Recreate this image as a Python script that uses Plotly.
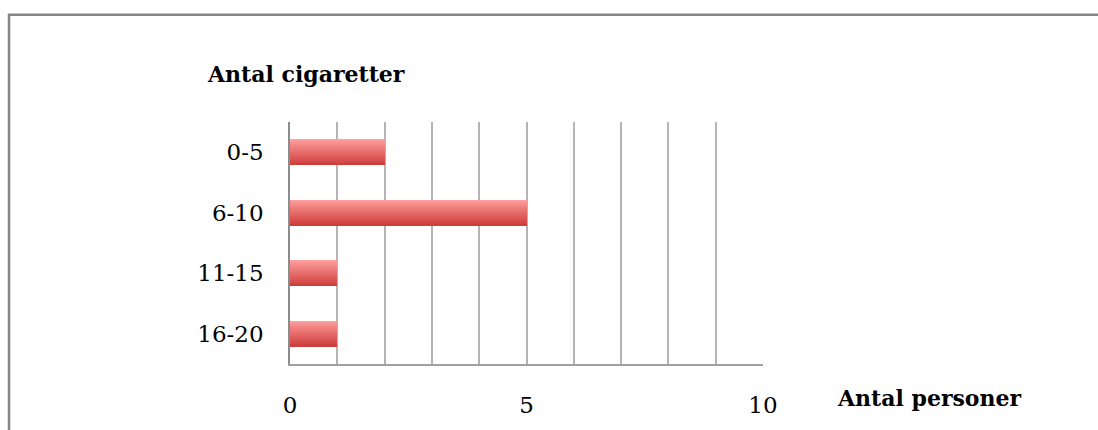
import plotly.graph_objects as go

categories = ["0-5", "6-10", "11-15", "16-20"]
values = [2, 5, 1, 1]
x_tick_vals = [0, 5, 10]
x_tick_text = ["0", "5", "10"]
y_title = "Antal cigaretter"
x_title = "Antal personer"

# plot area in pixels (for layout)
L, R, T, B = 290, 763, 122, 368
W_IMG, H_IMG = 1098, 430

def px_x(p):
    return (p - L) / (R - L)

def px_y(p):
    return (B - p) / (B - T)

fig = go.Figure()

# gradient bars built from stacked slices
top_rgb = (255, 158, 158)
bot_rgb = (206, 62, 60)
N = 26
BW = 0.42
for i in range(N):
    t = i / (N - 1)
    c = tuple(round(top_rgb[k] + (bot_rgb[k] - top_rgb[k]) * t) for k in range(3))
    fig.add_trace(go.Bar(
        y=categories, x=values, orientation="h",
        width=BW / N + 0.003,
        offset=-BW / 2 + i * BW / N,
        marker=dict(color="rgb(%d,%d,%d)" % c, line=dict(width=0)),
        showlegend=False, hoverinfo="skip" if i else "x+y",
    ))

font_family = "DejaVu Serif"
fig.update_layout(
    width=W_IMG, height=H_IMG,
    margin=dict(l=L, r=W_IMG - R, t=T, b=H_IMG - B, pad=0),
    paper_bgcolor="white", plot_bgcolor="white",
    barmode="overlay", bargap=0,
    font=dict(family=font_family, size=23, color="black"),
    xaxis=dict(
        range=[0, 10], tickvals=x_tick_vals, ticktext=x_tick_text,
        showgrid=True, gridcolor="#b4b4b4", gridwidth=1.5,
        minor=dict(dtick=1, showgrid=True, gridcolor="#b4b4b4", gridwidth=1.5),
        showline=True, linecolor="#a0a0a0", linewidth=1.5,
        zeroline=False, ticks="", ticklabelstandoff=20,
        tickfont=dict(family=font_family, size=23),
    ),
    yaxis=dict(
        categoryorder="array", categoryarray=categories,
        range=[3.5, -0.5],
        showgrid=False, showline=True, linecolor="#8c8c8c", linewidth=1.5,
        ticks="", ticklabelstandoff=20,
        tickfont=dict(family=font_family, size=23),
    ),
    shapes=[dict(
        type="rect", xref="paper", yref="paper",
        x0=px_x(9), x1=px_x(1130), y0=px_y(460), y1=px_y(13),
        line=dict(color="#878787", width=2.5), fillcolor="rgba(0,0,0,0)",
        layer="below",
    )],
    annotations=[
        dict(text="<b>%s</b>" % y_title, xref="paper", yref="paper",
             x=px_x(205), y=px_y(73), xanchor="left", yanchor="middle",
             showarrow=False, font=dict(family=font_family, size=22)),
        dict(text="<b>%s</b>" % x_title, xref="paper", yref="paper",
             x=px_x(835), y=px_y(403), xanchor="left", yanchor="middle",
             showarrow=False, font=dict(family=font_family, size=22)),
    ],
)

fig.write_html("out.html")
